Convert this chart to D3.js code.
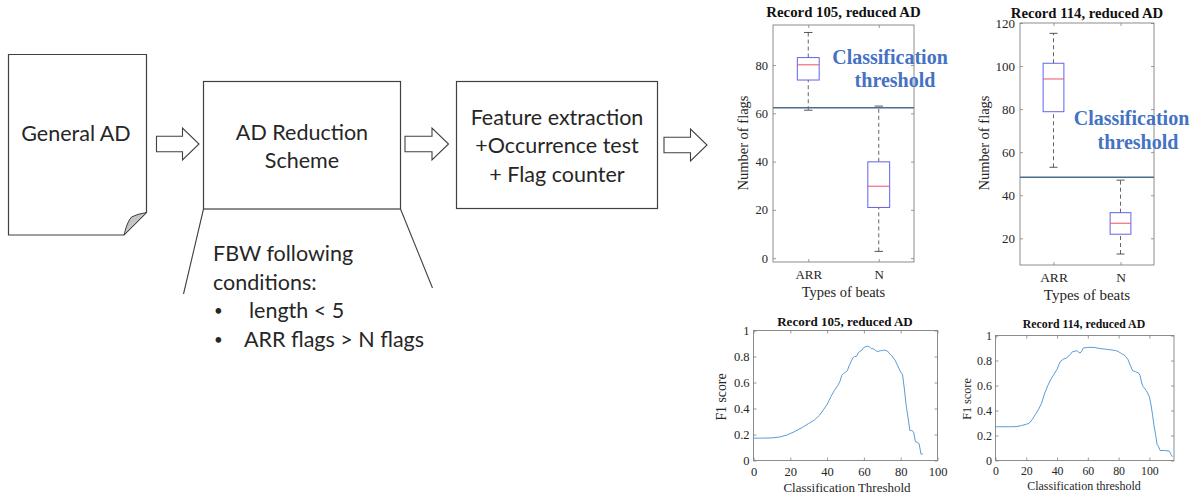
<!DOCTYPE html>
<html>
<head>
<meta charset="utf-8">
<script src="https://cdn.jsdelivr.net/npm/d3@7"></script>
<style>
  body { margin: 0; background: #fff; }
  svg { display: block; }
</style>
</head>
<body>
<script>
// ---- data ----
var beatTypes = ["ARR", "N"];
// [lower whisker, q1, median, q3, upper whisker]
var flags105ARR = [61.3, 73.8, 80.1, 83.1, 93.5];
var flags105N = [2.8, 21, 29.8, 39.9, 63];
var flags114ARR = [53, 78.8, 94, 101.3, 115.2];
var flags114N = [12.7, 21.9, 27, 31.9, 47];
var threshold105 = 62.3;
var threshold114 = 48.3;

var flagTicks105 = [0, 20, 40, 60, 80];
var flagTicks114 = [20, 40, 60, 80, 100, 120];
var f1Ticks = [0, 0.2, 0.4, 0.6, 0.8, 1];
var thresholdTicks = [0, 20, 40, 60, 80, 100];

var thr105 = [0, 5, 10, 14, 18, 22, 26, 30, 33, 36, 38, 40, 42, 44, 46, 47, 48, 49, 50, 51,
  52, 53, 54, 55, 56, 57, 58, 59, 60, 61, 62, 63, 64, 65, 66, 67, 68, 69, 70, 71,
  72, 73, 74, 75, 76, 77, 78, 79, 80, 81, 82, 83, 84, 85, 86, 87, 88, 89, 90, 91, 92];
var f1_105 = [0.172, 0.172, 0.174, 0.18, 0.195, 0.22, 0.25, 0.285, 0.31, 0.35, 0.39, 0.43, 0.49, 0.54, 0.58, 0.61, 0.655, 0.67, 0.68, 0.69,
  0.73, 0.76, 0.79, 0.8, 0.8, 0.83, 0.84, 0.85, 0.87, 0.875, 0.88, 0.875, 0.86, 0.86, 0.85, 0.84, 0.84, 0.845, 0.845, 0.85,
  0.845, 0.84, 0.82, 0.81, 0.79, 0.77, 0.74, 0.71, 0.68, 0.66, 0.55, 0.42, 0.33, 0.23, 0.23, 0.22, 0.145, 0.14, 0.13, 0.05, 0.05];

var thr114 = [0, 5, 10, 14, 17, 20, 22, 24, 26, 28, 30, 32, 34, 36, 38, 40, 42, 44, 46, 48,
  50, 52, 53, 54, 55, 56, 57, 60, 64, 68, 72, 75, 78, 80, 82, 84, 86, 88, 89, 91,
  93, 94, 95, 96, 98, 100, 101, 102, 103, 104, 105, 106, 107, 110, 113, 114, 115];
var f1_114 = [0.27, 0.27, 0.27, 0.272, 0.28, 0.29, 0.3, 0.33, 0.37, 0.41, 0.46, 0.54, 0.6, 0.65, 0.69, 0.73, 0.79, 0.81, 0.82, 0.84,
  0.87, 0.875, 0.88, 0.865, 0.86, 0.875, 0.9, 0.905, 0.905, 0.895, 0.89, 0.885, 0.88, 0.87, 0.855, 0.84, 0.81, 0.75, 0.72, 0.71,
  0.7, 0.68, 0.62, 0.59, 0.56, 0.51, 0.45, 0.37, 0.28, 0.21, 0.13, 0.11, 0.08, 0.08, 0.075, 0.05, 0.03];

// ---- styles ----
var sans = "Lato, 'Open Sans', sans-serif";
var serif = "'Liberation Serif', 'Times New Roman', serif";
var ink = "#262626";
var shapeStroke = "#404040";
var frameColor = "#808080";
var boxColor = "#6262ea";
var medianColor = "#ee5068";
var whiskerColor = "#666";
var thresholdColor = "#4d6d8d";
var noteColor = "#4472c4";
var lineColor = "#5b9bd5";

var svg = d3.select("body").append("svg")
  .attr("width", 1199)
  .attr("height", 495);

// ================= flow diagram =================
var flow = svg.append("g").attr("class", "flow");

// general AD page with folded corner
flow.append("path")
  .attr("d", "M8.5,54.5 H146.5 V212.5 L124,235 H8.5 Z")
  .attr("fill", "#fff")
  .attr("stroke", shapeStroke)
  .attr("stroke-width", 1.2);
flow.append("path")
  .attr("d", "M124,235 Q127,222 131.5,217 Q137,214 146.5,212.5 Z")
  .attr("fill", "#c4c4c4")
  .attr("stroke", shapeStroke)
  .attr("stroke-width", 1);

// boxes
flow.append("rect")
  .attr("x", 203.5).attr("y", 81.5)
  .attr("width", 197).attr("height", 127.5)
  .attr("fill", "#fff").attr("stroke", shapeStroke).attr("stroke-width", 1.2);
flow.append("rect")
  .attr("x", 456.5).attr("y", 81.5)
  .attr("width", 201).attr("height", 127)
  .attr("fill", "#fff").attr("stroke", shapeStroke).attr("stroke-width", 1.2);

// zoom lines under the reduction box
flow.append("line")
  .attr("x1", 203.5).attr("y1", 209).attr("x2", 183.5).attr("y2", 294)
  .attr("stroke", shapeStroke).attr("stroke-width", 1.1);
flow.append("line")
  .attr("x1", 400.5).attr("y1", 209).attr("x2", 432.5).attr("y2", 288)
  .attr("stroke", shapeStroke).attr("stroke-width", 1.1);

// hollow block arrows
function blockArrow( x0, x1, yc ) {
	var body = 7.8, head = 16, headLen = 16.5;
	var xh = x1 - headLen;
	var p = "M" + x0 + "," + ( yc - body ) +
		" H" + xh + " V" + ( yc - head ) +
		" L" + x1 + "," + yc +
		" L" + xh + "," + ( yc + head ) +
		" V" + ( yc + body ) + " H" + x0 + " Z";
	flow.append( "path" )
		.attr( "d", p )
		.attr( "fill", "#fff" )
		.attr( "stroke", shapeStroke )
		.attr( "stroke-width", 1.1 );
}
blockArrow(156.5, 199, 144);
blockArrow(405, 448.5, 144);
blockArrow(664, 707, 145);

function flowText( txt, x, y, anchor, size ) {
	flow.append( "text" )
		.attr( "x", x )
		.attr( "y", y )
		.attr( "text-anchor", anchor || "middle" )
		.style( "font-family", sans )
		.style( "font-size", ( size || 21.5 ) + "px" )
		.style( "fill", ink )
		.text( txt );
}
flowText("General AD", 76, 141);
flowText("AD Reduction", 302, 139.5);
flowText("Scheme", 302, 167.5);
flowText("Feature extraction", 557, 124.5);
flowText("+Occurrence test", 557, 153);
flowText("+ Flag counter", 557, 181.5);
flowText("FBW following", 213, 261, "start");
flowText("conditions:", 213, 289.5, "start");
flowText("\u2022", 214, 316, "start", 15);
flowText("length < 5", 249, 318, "start");
flowText("\u2022", 214, 344.5, "start", 15);
flowText("ARR flags > N flags", 244, 346.5, "start");

// ================= MATLAB style axes helper =================
function drawAxes( g, x, y, o ) {
	var xr = x.range(), yr = y.range();

	g.append( "rect" )
		.attr( "x", xr[0] )
		.attr( "y", yr[1] )
		.attr( "width", xr[1] - xr[0] )
		.attr( "height", yr[0] - yr[1] )
		.attr( "fill", "#fff" )
		.attr( "stroke", frameColor )
		.attr( "stroke-width", 0.9 );

	var bottom = g.append( "g" )
		.attr( "transform", "translate(0," + yr[0] + ")" )
		.call( d3.axisBottom( x ).tickValues( o.xTicks ).tickFormat( o.xFormat ).tickSize( -3 ).tickPadding( o.xPad ) );
	var top = g.append( "g" )
		.attr( "transform", "translate(0," + yr[1] + ")" )
		.call( d3.axisTop( x ).tickValues( o.xTicks ).tickFormat( function() { return ""; } ).tickSize( -3 ) );
	var left = g.append( "g" )
		.attr( "transform", "translate(" + xr[0] + ",0)" )
		.call( d3.axisLeft( y ).tickValues( o.yTicks ).tickFormat( o.yFormat ).tickSize( -3 ).tickPadding( o.yPad ) );
	var right = g.append( "g" )
		.attr( "transform", "translate(" + xr[1] + ",0)" )
		.call( d3.axisRight( y ).tickValues( o.yTicks ).tickFormat( function() { return ""; } ).tickSize( -3 ) );

	[ bottom, top, left, right ].forEach( function( a ) {
		a.select( ".domain" ).remove();
		a.selectAll( ".tick line" ).attr( "stroke", frameColor ).attr( "stroke-width", 0.8 );
		a.selectAll( "text" )
			.style( "font-family", serif )
			.style( "fill", ink );
	} );
	bottom.selectAll( "text" ).style( "font-size", o.xFont + "px" );
	left.selectAll( "text" ).style( "font-size", o.yFont + "px" );

	// title and axis labels
	g.append( "text" )
		.attr( "x", o.title[1] ).attr( "y", o.title[2] )
		.attr( "text-anchor", "middle" )
		.style( "font-family", serif ).style( "font-weight", "bold" )
		.style( "font-size", o.title[3] + "px" ).style( "fill", "#111" )
		.text( o.title[0] );
	g.append( "text" )
		.attr( "x", o.xLabel[1] ).attr( "y", o.xLabel[2] )
		.attr( "text-anchor", "middle" )
		.style( "font-family", serif ).style( "font-size", o.xLabel[3] + "px" ).style( "fill", ink )
		.text( o.xLabel[0] );
	g.append( "text" )
		.attr( "transform", "translate(" + o.yLabel[1] + "," + o.yLabel[2] + ") rotate(-90)" )
		.attr( "text-anchor", "middle" )
		.style( "font-family", serif ).style( "font-size", o.yLabel[3] + "px" ).style( "fill", ink )
		.text( o.yLabel[0] );
}

// box plot with threshold line
function drawBoxes( g, x, y, groups, threshold ) {
	var halfBox = 0.155, halfCap = 0.06;
	var xr = x.range();

	groups.forEach( function( s, i ) {
		var c = i + 1;
		// whiskers
		g.append( "line" )
			.attr( "x1", x( c ) ).attr( "x2", x( c ) )
			.attr( "y1", y( s[3] ) ).attr( "y2", y( s[4] ) )
			.attr( "stroke", whiskerColor ).attr( "stroke-dasharray", "4,3" );
		g.append( "line" )
			.attr( "x1", x( c ) ).attr( "x2", x( c ) )
			.attr( "y1", y( s[0] ) ).attr( "y2", y( s[1] ) )
			.attr( "stroke", whiskerColor ).attr( "stroke-dasharray", "4,3" );
		// caps
		[ s[0], s[4] ].forEach( function( v ) {
			g.append( "line" )
				.attr( "x1", x( c - halfCap ) ).attr( "x2", x( c + halfCap ) )
				.attr( "y1", y( v ) ).attr( "y2", y( v ) )
				.attr( "stroke", "#444" ).attr( "stroke-width", 0.9 );
		} );
		// box
		g.append( "rect" )
			.attr( "x", x( c - halfBox ) )
			.attr( "y", y( s[3] ) )
			.attr( "width", x( c + halfBox ) - x( c - halfBox ) )
			.attr( "height", y( s[1] ) - y( s[3] ) )
			.attr( "fill", "none" )
			.attr( "stroke", boxColor ).attr( "stroke-width", 1 );
		g.append( "line" )
			.attr( "x1", x( c - halfBox ) ).attr( "x2", x( c + halfBox ) )
			.attr( "y1", y( s[2] ) ).attr( "y2", y( s[2] ) )
			.attr( "stroke", medianColor ).attr( "stroke-width", 1 );
	} );

	g.append( "line" )
		.attr( "x1", xr[0] ).attr( "x2", xr[1] )
		.attr( "y1", y( threshold ) ).attr( "y2", y( threshold ) )
		.attr( "stroke", thresholdColor ).attr( "stroke-width", 1.5 );
}

function note( g, x1, y1, x2, y2 ) {
	[ [ "Classification", x1, y1 ], [ "threshold", x2, y2 ] ].forEach( function( t ) {
		g.append( "text" )
			.attr( "x", t[1] ).attr( "y", t[2] )
			.attr( "text-anchor", "middle" )
			.style( "font-family", serif ).style( "font-weight", "bold" )
			.style( "font-size", "20px" ).style( "fill", noteColor )
			.text( t[0] );
	} );
}

var catFormat = function( d ) { return beatTypes[d - 1]; };

// ---- Record 105 box plot ----
var g1 = svg.append("g");
var x1 = d3.scaleLinear().domain([0.5, 2.5]).range([773, 914]);
var y1 = d3.scaleLinear().domain([-1.6, 96.6]).range([262, 25]);
drawAxes(g1, x1, y1, {
  xTicks: [1, 2], xFormat: catFormat, xPad: 7.5, xFont: 13,
  yTicks: flagTicks105, yFormat: d3.format("d"), yPad: 5, yFont: 12.5,
  title: ["Record 105, reduced AD", 843.5, 17, 14.8],
  xLabel: ["Types of beats", 843.5, 297, 14.5],
  yLabel: ["Number of flags", 748, 143, 14.5]
});
drawBoxes(g1, x1, y1, [flags105ARR, flags105N], threshold105);
note(g1, 890, 64, 895, 87);

// ---- Record 114 box plot ----
var g2 = svg.append("g");
var x2 = d3.scaleLinear().domain([0.5, 2.5]).range([1020, 1154]);
var y2 = d3.scaleLinear().domain([7.6, 120]).range([265, 23]);
drawAxes(g2, x2, y2, {
  xTicks: [1, 2], xFormat: catFormat, xPad: 7, xFont: 13.5,
  yTicks: flagTicks114, yFormat: d3.format("d"), yPad: 5, yFont: 13,
  title: ["Record 114, reduced AD", 1087, 18, 14.7],
  xLabel: ["Types of beats", 1087, 300, 15],
  yLabel: ["Number of flags", 989, 143, 14.5]
});
drawBoxes(g2, x2, y2, [flags114ARR, flags114N], threshold114);
note(g2, 1131.5, 125, 1138, 149);

// ---- F1 score curves ----
function drawCurve( g, x, y, xs, ys ) {
	var pts = xs.map( function( d, i ) { return [ d, ys[i] ]; } );
	g.append( "path" )
		.datum( pts )
		.attr( "d", d3.line().x( function( d ) { return x( d[0] ); } ).y( function( d ) { return y( d[1] ); } ) )
		.attr( "fill", "none" )
		.attr( "stroke", lineColor )
		.attr( "stroke-width", 1 );
}

var g3 = svg.append("g");
var x3 = d3.scaleLinear().domain([0, 100]).range([753.5, 937.5]);
var y3 = d3.scaleLinear().domain([0, 1]).range([460.5, 330.5]);
drawAxes(g3, x3, y3, {
  xTicks: thresholdTicks, xFormat: d3.format("d"), xPad: 7, xFont: 12.5,
  yTicks: f1Ticks, yFormat: d3.format("~g"), yPad: 4, yFont: 12.5,
  title: ["Record 105, reduced AD", 845, 326, 13],
  xLabel: ["Classification Threshold", 847, 492, 13],
  yLabel: ["F1 score", 726, 397, 13.8]
});
drawCurve(g3, x3, y3, thr105, f1_105);

var g4 = svg.append("g");
var x4 = d3.scaleLinear().domain([0, 116]).range([995.5, 1174]);
var y4 = d3.scaleLinear().domain([0, 1]).range([460.5, 335.5]);
drawAxes(g4, x4, y4, {
  xTicks: thresholdTicks, xFormat: d3.format("d"), xPad: 6.5, xFont: 11.8,
  yTicks: f1Ticks, yFormat: d3.format("~g"), yPad: 3.5, yFont: 12,
  title: ["Record 114, reduced AD", 1084, 328, 11.8],
  xLabel: ["Classification threshold", 1084, 490, 12],
  yLabel: ["F1 score", 971, 399, 12.2]
});
drawCurve(g4, x4, y4, thr114, f1_114);
</script>
</body>
</html>
